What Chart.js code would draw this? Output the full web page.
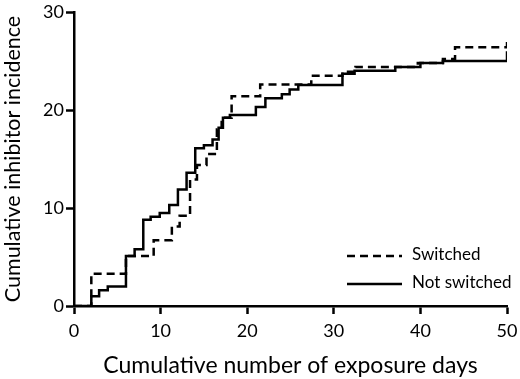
<!DOCTYPE html>
<html>
<head>
<meta charset="utf-8">
<script src="https://cdn.jsdelivr.net/npm/chart.js@4"></script>
<style>
  html, body { margin: 0; padding: 0; background: #fff; }
  #wrap { width: 520px; height: 379px; }
</style>
</head>
<body>
<div id="wrap"><canvas id="chart" width="520" height="379"></canvas></div>
<script>
// step points: x = exposure days where the curve jumps, y = new incidence
const switchedX    = [0, 2.0, 6.0, 9.2, 11.3, 12.2, 13.4, 14.2, 15.3, 16.5, 17.05, 18.2, 21.5, 27.4, 31.0, 32.5, 39.7, 42.6, 44.0, 50, 50];
const switchedY    = [0, 3.3, 5.1, 6.7, 8.1, 9.2, 12.9, 14.4, 15.5, 18.0, 19.2, 21.4, 22.6, 23.5, 23.9, 24.4, 24.8, 25.2, 26.4, 26.4, 27.2];
const notSwitchedX = [0, 2.0, 2.9, 3.9, 6.0, 7.0, 8.0, 8.85, 9.9, 11.0, 12.0, 13.0, 14.0, 15.0, 16.0, 16.7, 17.2, 18.0, 21.0, 22.1, 24.0, 24.9, 25.9, 31.0, 32.4, 37.1, 40.0, 42.6, 50, 50];
const notSwitchedY = [0, 1.0, 1.6, 2.0, 5.1, 5.8, 8.8, 9.1, 9.5, 10.3, 11.9, 13.6, 16.1, 16.4, 17.0, 18.2, 19.2, 19.5, 20.3, 21.2, 21.6, 22.1, 22.55, 23.7, 24.0, 24.4, 24.8, 25.0, 25.0, 26.0];
const xTicks = [0, 10, 20, 30, 40, 50];
const yTicks = [0, 10, 20, 30];
const seriesNames = ['Switched', 'Not switched'];

const FONT = 'Lato, "DejaVu Sans", sans-serif';

function toPoints(xs, ys) {
    return xs.map((x, i) => ({ x: x, y: ys[i] }));
}

// legend drawn inside the plot, lower right
const innerLegend = {
    id: 'innerLegend',
    afterDraw(chart) {
        const ctx = chart.ctx;
        const sets = chart.data.datasets;
        ctx.save();
        ctx.font = '17px ' + FONT;
        ctx.fillStyle = '#000';
        ctx.textBaseline = 'middle';
        sets.forEach((ds, i) => {
            const y = 256 + i * 28;
            ctx.beginPath();
            ctx.lineWidth = 2.5;
            ctx.strokeStyle = '#000';
            ctx.setLineDash(ds.borderDash || []);
            ctx.moveTo(347, y);
            ctx.lineTo(402, y);
            ctx.stroke();
            ctx.setLineDash([]);
            ctx.fillText(ds.label, 412, y - 1);
        });
        ctx.restore();
    }
};

new Chart(document.getElementById('chart').getContext('2d'), {
    type: 'line',
    data: {
        datasets: [
            {
                label: seriesNames[0],
                data: toPoints(switchedX, switchedY),
                borderColor: '#000',
                borderWidth: 2.5,
                borderDash: [8, 5],
                stepped: true,
                pointRadius: 0,
                fill: false
            },
            {
                label: seriesNames[1],
                data: toPoints(notSwitchedX, notSwitchedY),
                borderColor: '#000',
                borderWidth: 2.5,
                stepped: true,
                pointRadius: 0,
                fill: false
            }
        ]
    },
    options: {
        responsive: false,
        animation: false,
        layout: { padding: { top: 12, right: 13, left: 0, bottom: 0 } },
        plugins: {
            legend: { display: false },
            tooltip: { enabled: false }
        },
        scales: {
            x: {
                type: 'linear',
                min: 0,
                max: 50,
                afterBuildTicks: s => { s.ticks = xTicks.map(v => ({ value: v })); },
                afterFit: s => { s.height = 73; s.paddingLeft = 0; s.paddingRight = 0; },
                border: { color: '#000', width: 2.5 },
                grid: { drawOnChartArea: false, drawTicks: true, tickLength: 8, tickColor: '#000', tickWidth: 2.5 },
                ticks: { color: '#000', font: { family: FONT, size: 18 }, padding: 6, maxRotation: 0 },
                title: {
                    display: true,
                    text: 'Cumulative number of exposure days',
                    color: '#000',
                    font: { family: FONT, size: 23 },
                    padding: { top: 9, bottom: 0 }
                }
            },
            y: {
                min: 0,
                max: 30,
                afterBuildTicks: s => { s.ticks = yTicks.map(v => ({ value: v })); },
                afterFit: s => { s.width = 74; s.paddingTop = 0; s.paddingBottom = 0; },
                border: { color: '#000', width: 2.5 },
                grid: { drawOnChartArea: false, drawTicks: true, tickLength: 8, tickColor: '#000', tickWidth: 2.5 },
                ticks: { color: '#000', font: { family: FONT, size: 18 }, padding: 2 },
                title: {
                    display: true,
                    text: 'Cumulative inhibitor incidence',
                    color: '#000',
                    font: { family: FONT, size: 21.5 },
                    padding: { top: 0, bottom: 2 }
                }
            }
        }
    },
    plugins: [innerLegend]
});
</script>
</body>
</html>
